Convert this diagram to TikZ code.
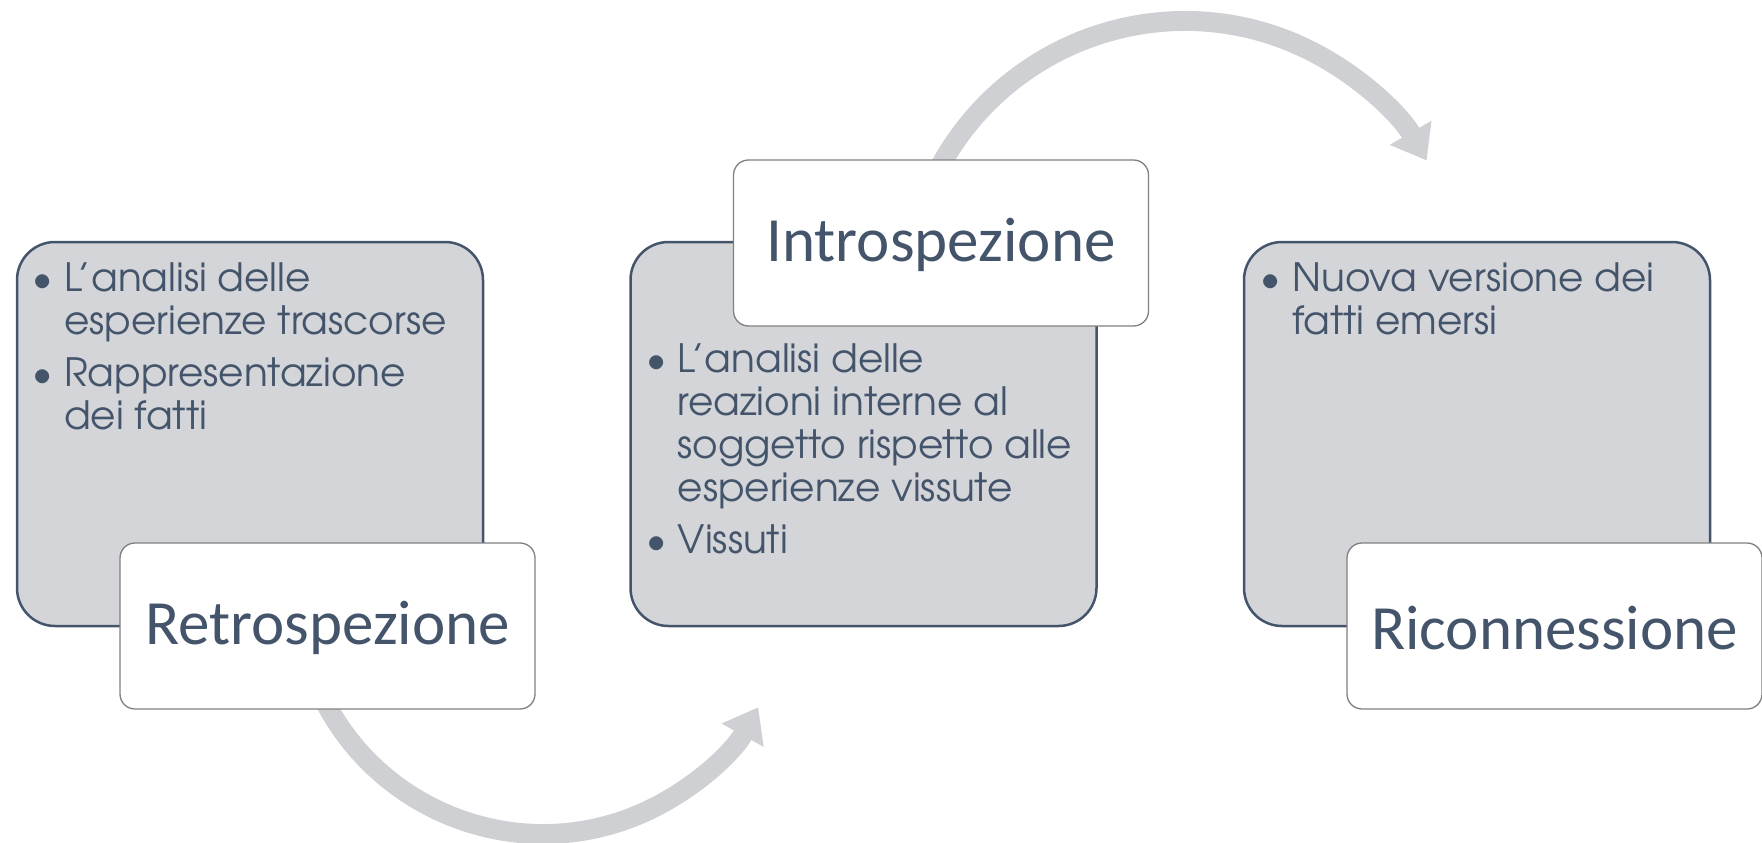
\documentclass[tikz,border=0pt]{standalone}
\usepackage{fontspec}
\newfontfamily\advfont{TeX Gyre Adventor}
\newfontfamily\calfont{Carlito}
\usetikzlibrary{arrows.meta}
\definecolor{slate}{HTML}{44546A}
\definecolor{boxgray}{RGB}{212,213,217}
\definecolor{arcgray}{RGB}{207,208,212}
\definecolor{edgegray}{RGB}{128,128,128}
\newcommand{\bitem}[1]{\par\hangindent=21.5pt\hangafter=1\noindent\rlap{\makebox[0pt][c]{•}}\hspace*{21.5pt}#1\par}
\newcommand{\blist}[1]{\parbox[t]{460pt}{\raggedright\setlength{\parskip}{9pt}#1}}
\begin{document}
\begin{tikzpicture}[x=1pt,y=-1pt,
  graybox/.style={draw=slate, line width=2.5pt, fill=boxgray, rounded corners=38pt, minimum width=466pt, minimum height=384pt, inner sep=0pt},
  whitebox/.style={draw=edgegray, line width=1.3pt, fill=white, rounded corners=15pt, minimum width=415pt, minimum height=166pt, inner sep=0pt},
  titletext/.style={font=\calfont\fontsize{63}{70}\selectfont, text=slate, inner sep=0pt, yshift=-2pt},
  bulletlist/.style={font=\advfont\fontsize{39}{43}\selectfont, text=slate, inner sep=0pt, anchor=base west},
  arcarrow/.style={draw=arcgray, line width=20pt, -{Triangle[length=32pt,width=46pt]}}
]
\useasboundingbox (0,0) rectangle (1762,843);
% arc centres
\coordinate (c1) at (543,588);
\coordinate (c2) at (1185,300);
\draw[arcarrow] (c1) ++(155:246) arc[start angle=155, end angle=29, radius=246];
\draw[arcarrow] (c2) ++(-153:279) arc[start angle=-153, end angle=-30, radius=279];
% gray boxes
\node[graybox] (g1) at (250,434) {};
\node[graybox] (g2) at (863.5,434) {};
\node[graybox] (g3) at (1477,434) {};
% white boxes
\node[whitebox] (w1) at (327.5,626) {};
\node[whitebox] (w2) at (941,243) {};
\node[whitebox] (w3) at (1554.5,626) {};
% titles
\node[titletext] (t1) at (w1.center) {Retrospezione};
\node[titletext] (t2) at (w2.center) {Introspezione};
\node[titletext] (t3) at (w3.center) {Riconnessione};
% bullet texts
\node[bulletlist] (b1) at (42.5,291) {\blist{\bitem{L’analisi delle\newline esperienze trascorse}\bitem{Rappresentazione\newline dei fatti}}};
\node[bulletlist] (b2) at (656,372) {\blist{\bitem{L’analisi delle\newline reazioni interne al\newline soggetto rispetto alle\newline esperienze vissute}\bitem{Vissuti}}};
\node[bulletlist] (b3) at (1270.5,291) {\blist{\bitem{Nuova versione dei\newline fatti emersi}}};
\end{tikzpicture}
\end{document}
